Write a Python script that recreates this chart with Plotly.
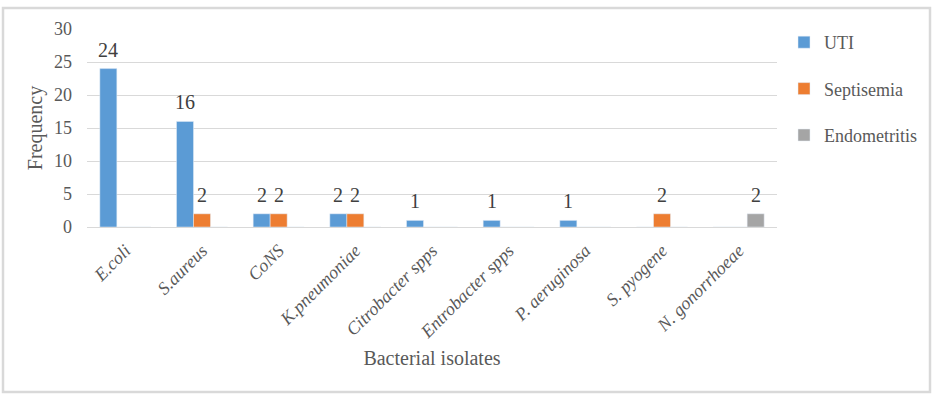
import plotly.graph_objects as go

categories = ["E.coli", "S.aureus", "CoNS", "K.pneumoniae", "Citrobacter spps",
              "Entrobacter spps", "P. aeruginosa", "S. pyogene", "N. gonorrhoeae"]
uti = [24, 16, 2, 2, 1, 1, 1, 0, 0]
septisemia = [0, 2, 2, 2, 0, 0, 0, 2, 0]
endometritis = [0, 0, 0, 0, 0, 0, 0, 0, 2]

series = [("UTI", uti, "#5B9BD5"), ("Septisemia", septisemia, "#ED7D31"),
          ("Endometritis", endometritis, "#A5A5A5")]

FONT = "Liberation Serif, Times New Roman, serif"
L, R, T, B = 87, 777, 29, 227
W, H = 952, 394
pw, ph = R - L, B - T
BARGAP = 0.335
bw = pw / len(categories) * (1 - BARGAP) / len(series)

def px2x(p): return (p - L) / pw
def py2y(p): return (B - p) / ph

fig = go.Figure()
annotations = []
for i, (name, vals, col) in enumerate(series):
    fig.add_trace(go.Bar(x=categories, y=vals, name=name, marker_color=col,
                         legendgroup=name))
    for c, v in zip(categories, vals):
        if v:
            annotations.append(dict(
                x=c, y=v, xref="x", yref="y", text=str(v), showarrow=False,
                yanchor="bottom", xanchor="center",
                xshift=(i - (len(series) - 1) / 2) * bw, yshift=6,
                font=dict(family=FONT, size=20, color="#404040")))

fig.update_layout(
    width=W, height=H,
    margin=dict(l=L, r=W - R, t=T, b=H - B, pad=0),
    barmode="group", bargap=BARGAP, bargroupgap=0,
    plot_bgcolor="white", paper_bgcolor="white",
    font=dict(family=FONT, color="#595959"),
    showlegend=True,
    legend=dict(x=px2x(784), y=py2y(24), xanchor="left", yanchor="top",
                font=dict(family=FONT, size=18, color="#595959"),
                tracegroupgap=20, itemwidth=30, bgcolor="rgba(0,0,0,0)"),
    xaxis=dict(tickangle=-45, tickfont=dict(family=FONT, size=18, style="italic", color="#595959"),
               showline=True, linecolor="#d9d9d9", linewidth=1, ticks="",
               ticklabelstandoff=5,
               title=dict(text="Bacterial isolates", font=dict(family=FONT, size=20, color="#595959"),
                          standoff=9)),
    yaxis=dict(range=[0, 30], dtick=5, showgrid=True, gridcolor="#d9d9d9", gridwidth=1,
               zeroline=False, ticks="", tickfont=dict(family=FONT, size=18, color="#595959"),
               ticklabelstandoff=14,
               title=dict(text="Frequency", font=dict(family=FONT, size=20, color="#595959"),
                          standoff=6)),
    annotations=annotations,
    shapes=[dict(type="rect", xref="paper", yref="paper",
                 x0=px2x(3), x1=px2x(930), y0=py2y(392), y1=py2y(8),
                 line=dict(color="#d9d9d9", width=2.5), layer="below")],
)

fig.write_html("out.html")
